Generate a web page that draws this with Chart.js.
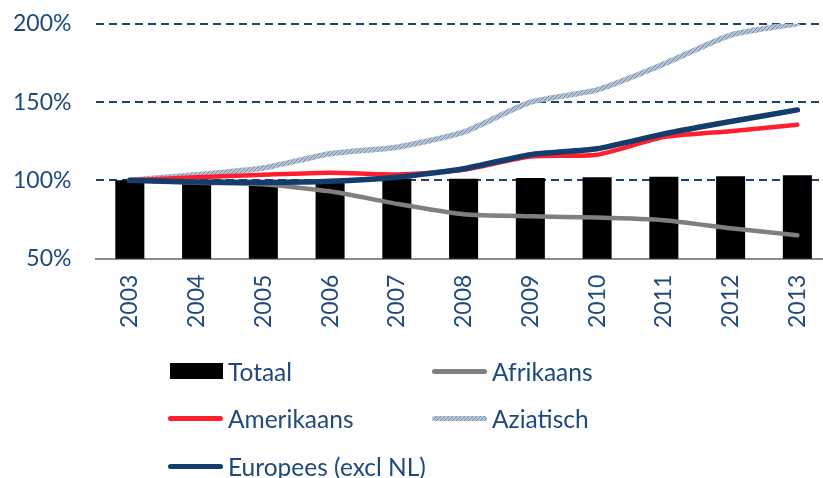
<!DOCTYPE html>
<html lang="nl">
<head>
  <meta charset="UTF-8" />
  <title>Index per herkomst</title>
  <script src="https://cdn.jsdelivr.net/npm/chart.js"></script>
  <style>
    html, body { margin: 0; padding: 0; background: #fff; overflow: hidden; }
    body { width: 823px; height: 478px; position: relative; font-family: Lato, sans-serif; }
    #wrap { position: absolute; left: -25px; top: -15px; width: 866px; height: 371px; }
    #legend { position: absolute; left: 0; top: 0; width: 823px; height: 478px; pointer-events: none; }
    .item { position: absolute; display: flex; align-items: center; height: 30px; color: #1f497d; font-size: 24.5px; }
    .sw { width: 55px; height: 5px; border-radius: 3px; margin-right: 5px; }
    .sw.box { width: 53px; height: 16px; border-radius: 0; margin-left: 2px; margin-right: 5px; }
  </style>
</head>
<body>
  <div id="wrap"><canvas id="grafiek"></canvas></div>
  <div id="legend"></div>

  <script>
    // waarden (index 2003 = 100%)
    const jaren = ['2003', '2004', '2005', '2006', '2007', '2008', '2009', '2010', '2011', '2012', '2013'];
    const totaal = [100, 99, 99, 98.5, 101, 101, 101.5, 102, 102.3, 102.7, 103.2];
    const afrikaans = [100, 98.5, 97.5, 93, 85, 78.3, 77, 76.2, 74.5, 69.4, 65];
    const amerikaans = [100, 102, 103.6, 104.9, 103.8, 106.8, 115.3, 116.4, 127.6, 131.4, 135.5];
    const aziatisch = [100, 103.6, 107.9, 117, 121.2, 130.8, 149.9, 157.8, 174.3, 192.8, 200.2];
    const europees = [100, 98.9, 98.7, 99.4, 102, 107.4, 116.4, 120.2, 129.7, 137.6, 145];
    const yTicks = [50, 100, 150, 200];

    const blauw = '#1f497d';

    // gearceerde lijn voor Aziatisch
    function arcering() {
      const c = document.createElement('canvas');
      c.width = 4; c.height = 4;
      const g = c.getContext('2d');
      g.fillStyle = '#b6c4d6';
      g.fillRect(0, 0, 4, 4);
      g.fillStyle = '#7289a9';
      g.fillRect(0, 0, 1, 1); g.fillRect(2, 2, 1, 1);
      g.fillRect(1, 3, 1, 1); g.fillRect(3, 1, 1, 1);
      return c;
    }
    const patroonCanvas = arcering();
    const patroon = patroonCanvas.getContext('2d').createPattern(patroonCanvas, 'repeat');

    function lijn(label, data, kleur, dikte, volgorde) {
      return {
        type: 'line', label, data,
        borderColor: kleur, borderWidth: dikte,
        borderCapStyle: 'round', borderJoinStyle: 'round',
        pointRadius: 0, tension: 0.2, fill: false, order: volgorde
      };
    }

    const datasets = [
      { type: 'bar', label: 'Totaal', data: totaal, backgroundColor: '#000',
        barPercentage: 0.435, categoryPercentage: 1, order: 5 },
      lijn('Afrikaans', afrikaans, '#7f7f7f', 4.5, 3),
      lijn('Amerikaans', amerikaans, '#ff1f2d', 4.5, 2),
      lijn('Aziatisch', aziatisch, patroon, 5.5, 4),
      lijn('Europees (excl NL)', europees, '#123d6c', 5.5, 1)
    ];

    new Chart(document.getElementById('grafiek').getContext('2d'), {
      type: 'bar',
      data: { labels: jaren, datasets },
      options: {
        responsive: true,
        maintainAspectRatio: false,
        animation: false,
        layout: { padding: { top: 9, left: 13, right: 1, bottom: 12 } },
        plugins: { legend: { display: false }, tooltip: { enabled: false } },
        scales: {
          x: {
            grid: { display: false, drawTicks: false },
            border: { display: true, color: '#8c8c8c', width: 2 },
            ticks: { color: blauw, font: { family: 'Lato', size: 23 }, minRotation: 90, maxRotation: 90, padding: 16 }
          },
          y: {
            min: 50, max: 200,
            afterBuildTicks: s => { s.ticks = yTicks.map(v => ({ value: v })); },
            grid: {
              drawTicks: false, lineWidth: 2,
              color: c => (c.tick && c.tick.value === 50 ? 'rgba(0,0,0,0)' : '#1b4472')
            },
            border: { display: false, dash: [8, 5] },
            ticks: { color: blauw, font: { family: 'Lato', size: 23 }, padding: 25, callback: v => v + '%' }
          }
        }
      }
    });

    // legenda in twee kolommen
    const legenda = document.getElementById('legend');
    const items = [
      { tekst: 'Totaal', stijl: 'box', kleur: '#000' },
      { tekst: 'Afrikaans', kleur: '#7f7f7f' },
      { tekst: 'Amerikaans', kleur: '#ff1f2d' },
      { tekst: 'Aziatisch', patroon: true },
      { tekst: 'Europees (excl NL)', kleur: '#123d6c' }
    ];
    items.forEach((it, i) => {
      const el = document.createElement('div');
      el.className = 'item';
      el.style.left = (i % 2 === 0 ? 168 : 432) + 'px';
      el.style.top = (356 + Math.floor(i / 2) * 47.5) + 'px';
      const sw = document.createElement('span');
      sw.className = 'sw' + (it.stijl === 'box' ? ' box' : '');
      if (it.patroon) sw.style.background = 'url(' + patroonCanvas.toDataURL() + ')';
      else sw.style.background = it.kleur;
      const t = document.createElement('span');
      t.textContent = it.tekst;
      el.appendChild(sw); el.appendChild(t);
      legenda.appendChild(el);
    });
  </script>
</body>
</html>
